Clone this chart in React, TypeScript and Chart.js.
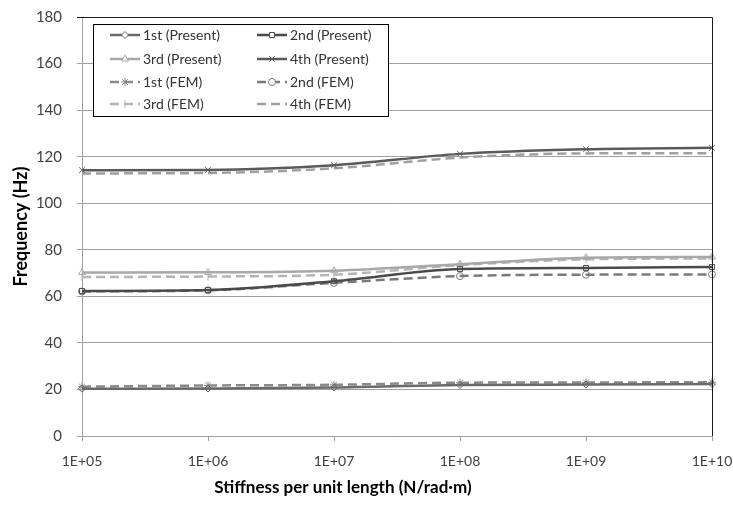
import React, { useEffect, useRef } from "react";
import { Chart, registerables } from "chart.js";
import { drawPoint } from "chart.js/helpers";

Chart.register(...registerables);

const categories = ["1E+05", "1E+06", "1E+07", "1E+08", "1E+09", "1E+10"];
const present1 = [20.3, 20.4, 20.8, 21.9, 22.1, 22.3];
const present2 = [62.3, 62.7, 66.5, 71.7, 72.2, 72.6];
const present3 = [70.2, 70.3, 71.0, 73.8, 76.6, 76.9];
const present4 = [114.2, 114.3, 116.3, 121.2, 123.2, 123.8];
const fem1 = [21.2, 21.7, 22.0, 22.9, 23.0, 23.1];
const fem2 = [62.1, 62.6, 65.8, 68.7, 69.3, 69.4];
const fem3 = [68.3, 68.5, 69.3, 73.4, 75.9, 76.3];
const fem4 = [112.8, 113.0, 115.0, 119.6, 121.4, 121.5];

const yTicks = [0, 20, 40, 60, 80, 100, 120, 140, 160, 180];
const xTitle = "Stiffness per unit length (N/rad·m)";
const yTitle = "Frequency (Hz)";

const FONT = "Lato, 'Liberation Sans', sans-serif";

const legendPlugin = {
  id: "boxLegend",
  afterDraw(chart: any) {
    const ctx = chart.ctx;
    const ds = chart.data.datasets;
    ctx.save();
    const a = chart.chartArea;
    ctx.strokeStyle = "#1a1a1a";
    ctx.lineWidth = 1;
    ctx.beginPath();
    ctx.moveTo(a.left, a.top + 0.5);
    ctx.lineTo(a.right + 0.5, a.top + 0.5);
    ctx.lineTo(a.right + 0.5, a.bottom);
    ctx.stroke();

    const bx = 93, by = 24, bw = 295, bh = 92;
    ctx.fillStyle = "#ffffff";
    ctx.fillRect(bx, by, bw, bh);
    ctx.strokeStyle = "#000000";
    ctx.strokeRect(bx + 0.5, by + 0.5, bw, bh);
    const rows = [35, 59, 82, 104];
    const cols = [110, 257];
    ds.forEach((d: any, i: number) => {
      const y = rows[Math.floor(i / 2)];
      const x0 = cols[i % 2];
      ctx.strokeStyle = d.borderColor;
      ctx.lineWidth = d.borderWidth;
      ctx.setLineDash(d.borderDash || []);
      ctx.beginPath();
      ctx.moveTo(x0, y);
      ctx.lineTo(x0 + 30, y);
      ctx.stroke();
      ctx.setLineDash([]);
      if (d.pointStyle && d.pointRadius > 0) {
        ctx.strokeStyle = d.borderColor;
        ctx.fillStyle = "#ffffff";
        ctx.lineWidth = 1;
        drawPoint(ctx, {
          pointStyle: d.pointStyle,
          rotation: d.pointRotation || 0,
          radius: d.pointRadius,
          borderWidth: 1,
        }, x0 + 15, y);
      }
      ctx.fillStyle = "#333333";
      ctx.font = "14px " + FONT;
      ctx.textBaseline = "middle";
      ctx.textAlign = "left";
      ctx.fillText(d.label, x0 + 33, y);
    });

    ctx.fillStyle = "#000000";
    ctx.font = "bold 17px " + FONT;
    ctx.textAlign = "center";
    ctx.textBaseline = "middle";
    ctx.fillText(xTitle, 343, 488);
    ctx.restore();
  },
};

function mk(label: string, data: number[], color: string, style: any, opts: any = {}) {
  return {
    label,
    data,
    borderColor: color,
    backgroundColor: color,
    borderWidth: 2.5,
    pointStyle: style,
    pointRadius: style ? 4 : 0,
    pointBorderWidth: 1,
    pointBorderColor: color,
    pointBackgroundColor: "rgba(255,255,255,0)",
    cubicInterpolationMode: "monotone",
    ...opts,
  };
}

export default function App() {
  const ref = useRef<HTMLCanvasElement>(null);
  useEffect(() => {
    document.body.style.margin = "0";
    const dash = [9, 5];
    const chart = new Chart(ref.current as HTMLCanvasElement, {
      type: "line",
      data: {
        labels: categories,
        datasets: [
          mk("1st (Present)", present1, "#6a6a6a", "rectRot", { pointRadius: 3.5 }),
          mk("2nd (Present)", present2, "#4a4a4a", "rect", { pointRadius: 3.5 }),
          mk("3rd (Present)", present3, "#a8a8a8", "triangle"),
          mk("4th (Present)", present4, "#5a5a5a", "crossRot"),
          mk("1st (FEM)", fem1, "#8a8a8a", "star", { borderDash: dash }),
          mk("2nd (FEM)", fem2, "#7a7a7a", "circle", { borderDash: dash, pointRadius: 3.5 }),
          mk("3rd (FEM)", fem3, "#b4b4b4", "line", { borderDash: dash, pointRotation: 90 }),
          mk("4th (FEM)", fem4, "#a0a0a0", false, { borderDash: dash }),
        ] as any,
      },
      options: {
        animation: false,
        responsive: false,
        layout: { padding: { top: 17, right: 21, left: 0, bottom: 0 } },
        plugins: { legend: { display: false }, tooltip: { enabled: false } },
        scales: {
          x: {
            type: "category",
            offset: false,
            grid: { drawOnChartArea: false, drawTicks: true, tickLength: 5, color: "#a0a0a0" },
            border: { color: "#a0a0a0" },
            ticks: { padding: 12, autoSkip: false, maxRotation: 0, color: "#404040", font: { family: FONT, size: 14 } },
            afterFit: (s: any) => {
              s.height = 70;
              s.paddingLeft = 0;
              s.paddingRight = 0;
            },
          },
          y: {
            min: 0,
            max: 180,
            afterBuildTicks: (s: any) => {
              s.ticks = yTicks.map((v) => ({ value: v }));
            },
            grid: {
              tickLength: 5,
              color: (c: any) => (c.tick && c.tick.value === 180 ? "#1a1a1a" : "#a0a0a0"),
            },
            border: { color: "#a0a0a0" },
            ticks: { padding: 15, color: "#404040", font: { family: FONT, size: 15 } },
            title: {
              display: true,
              text: yTitle,
              color: "#000000",
              font: { family: FONT, size: 18, weight: "bold" },
              padding: { top: 10, bottom: 0 },
            },
            afterFit: (s: any) => {
              s.width = 82;
              s.paddingTop = 0;
              s.paddingBottom = 0;
            },
          },
        },
      },
      plugins: [legendPlugin],
    } as any);
    return () => chart.destroy();
  }, []);
  return <canvas ref={ref} width={733} height={506} />;
}
